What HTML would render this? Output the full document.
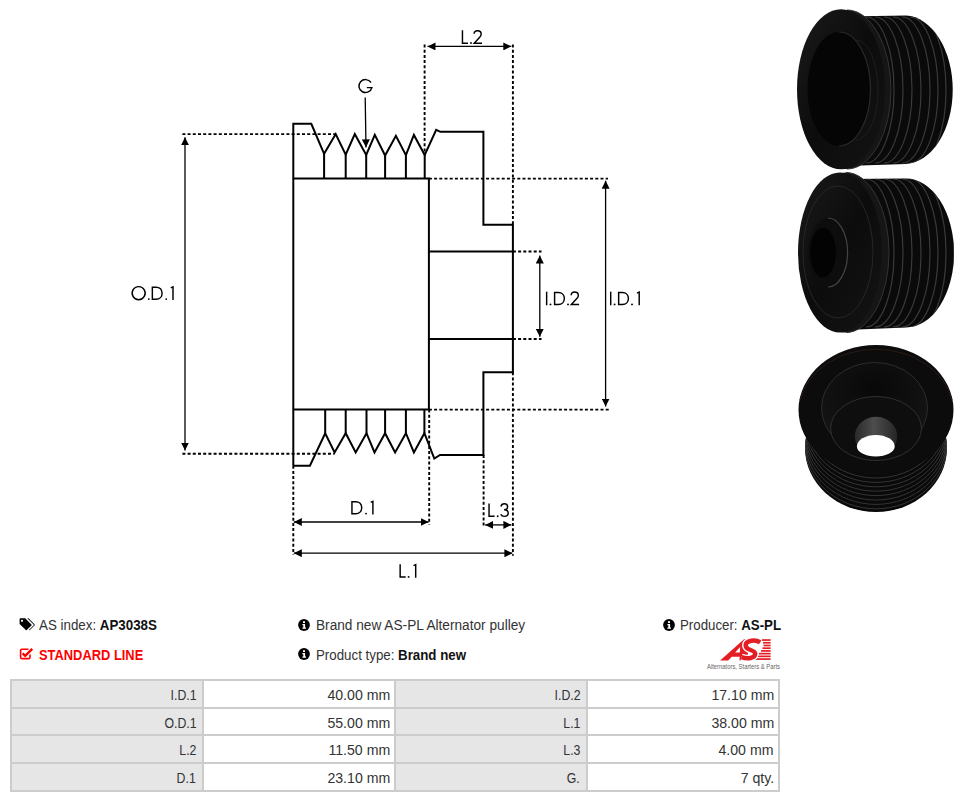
<!DOCTYPE html>
<html><head><meta charset="utf-8">
<style>
html,body{margin:0;padding:0;background:#fff;}
body{width:962px;height:802px;position:relative;overflow:hidden;font-family:"Liberation Sans",sans-serif;color:#333;}
.abs{position:absolute;white-space:nowrap;}
.t{position:absolute;white-space:nowrap;font-size:14px;line-height:16px;color:#333;transform-origin:0 0;}
.t b{color:#111;}
.red{color:#f00;font-weight:bold;}
.tc{position:absolute;white-space:nowrap;font-size:14px;line-height:16px;color:#333;transform-origin:100% 0;}

</style></head><body>
<svg class="abs" style="left:0;top:0" width="962" height="600" viewBox="0 0 962 600">
<defs>
<marker id="ah" viewBox="0 0 8 8" refX="8" refY="4" markerWidth="8" markerHeight="8" markerUnits="userSpaceOnUse" orient="auto-start-reverse"><path d="M0,0 L8,4 L0,8 z" fill="#000"/></marker>
</defs>
<g fill="none" stroke="#000" stroke-width="2" stroke-linejoin="miter">
<!-- outer contour -->
<path d="M293.3,465.7 V123.8 H311.3 L324.1,153.8 L335.7,134.1 L345.7,154.6 L354.8,134.1 L366.2,154.9 L374.8,134.9 L385.1,155.5 L395.9,135.8 L405.9,155.2 L413.9,134.9 L424.7,154.9 L436.2,129.8 L440.4,131.8 H483.4 V224.8 H512.9 V372.2 H483.4 V455 H440 L434.3,458.6 L424.4,433.2 L413.9,452.4 L405.9,433.2 L395.1,452.4 L385.1,433.2 L374.5,452.4 L366.5,433.2 L355.7,452.4 L345.7,433.2 L334.6,452.4 L325.2,433.2 L309.9,465.7 H293.3"/>
<path d="M293.3,178.5 H428.9 V409.5 H293.3"/>
<path d="M324.1,153.8 V178.5 M345.7,154.6 V178.5 M366.2,154.9 V178.5 M385.1,155.5 V178.5 M405.9,155.2 V178.5 M424.7,154.9 V178.5"/>
<path d="M325.2,409.5 V433.2 M345.7,409.5 V433.2 M366.5,409.5 V433.2 M385.1,409.5 V433.2 M405.9,409.5 V433.2 M424.4,409.5 V433.2"/>
<path d="M428.9,251.5 H512.9 M428.9,339 H512.9"/>
</g>
<g fill="none" stroke="#000" stroke-width="1.9" stroke-dasharray="3 2.2">
<path d="M182.4,134.1 H335.7 M182.4,453.7 H334.6"/>
<path d="M428.9,178.6 H608 M428.9,409.6 H609.6"/>
<path d="M512.9,251.5 H541.5 M512.9,339 H541.5"/>
<path d="M424.6,44.5 V155 M512.9,44.5 V224.8"/>
<path d="M293.3,465.7 V554.5 M429.2,409.5 V524.6 M483.6,455 V527.2 M512.9,372.2 V555.8"/>
</g>
<g fill="none" stroke="#000" stroke-width="1.3" marker-start="url(#ah)" marker-end="url(#ah)">
<path d="M427.5,46.4 H511.3"/>
<path d="M185,137.2 V450.5"/>
<path d="M605.6,180.7 V406.5"/>
<path d="M539.8,255.5 V336.8"/>
<path d="M293.8,522 H428.6"/>
<path d="M485.2,524.9 H511.4"/>
<path d="M293.8,553.2 H512.4"/>
</g>
<path d="M365.2,97.5 L366,147.4" fill="none" stroke="#000" stroke-width="1.3" marker-end="url(#ah)"/>
<g fill="none" stroke="#000" stroke-width="1.45" stroke-linecap="butt">
<path transform="translate(358.00,94.00)" d="M13.0,-11.5 A6.6,6.45 0 1 0 13.9,-6.4 H8.8"/>
<path transform="translate(461.70,43.90)" d="M0.75,-13.6 V-0.75 H6.3"/>
<path transform="translate(473.20,43.90)" d="M0.85,-10.1 C0.95,-12.2 2.5,-13.25 4.4,-13.25 C6.5,-13.25 8.0,-11.9 8.0,-9.9 C8.0,-8.5 7.3,-7.5 6.3,-6.5 L1.0,-0.75 H8.8"/>
<path transform="translate(131.40,300.00)" d="M7.25,-13.4 A6.5,6.55 0 1 0 7.26,-13.4 Z"/>
<path transform="translate(151.60,300.00)" d="M0.75,-12.85 V-0.75 H4.4 C8.2,-0.75 10.5,-3.3 10.5,-6.8 C10.5,-10.3 8.2,-12.85 4.4,-12.85 Z"/>
<path transform="translate(170.40,300.00)" d="M0.4,-12.2 L2.6,-13.2 V0"/>
<path transform="translate(545.95,305.30)" d="M0.7,-13.6 V0"/>
<path transform="translate(553.85,305.30)" d="M0.75,-12.85 V-0.75 H4.4 C8.2,-0.75 10.5,-3.3 10.5,-6.8 C10.5,-10.3 8.2,-12.85 4.4,-12.85 Z"/>
<path transform="translate(570.30,305.30)" d="M0.85,-10.1 C0.95,-12.2 2.5,-13.25 4.4,-13.25 C6.5,-13.25 8.0,-11.9 8.0,-9.9 C8.0,-8.5 7.3,-7.5 6.3,-6.5 L1.0,-0.75 H8.8"/>
<path transform="translate(610.00,305.30)" d="M0.7,-13.6 V0"/>
<path transform="translate(617.90,305.30)" d="M0.75,-12.85 V-0.75 H4.4 C8.2,-0.75 10.5,-3.3 10.5,-6.8 C10.5,-10.3 8.2,-12.85 4.4,-12.85 Z"/>
<path transform="translate(636.60,305.30)" d="M0.4,-12.2 L2.6,-13.2 V0"/>
<path transform="translate(351.20,514.50)" d="M0.75,-12.85 V-0.75 H4.4 C8.2,-0.75 10.5,-3.3 10.5,-6.8 C10.5,-10.3 8.2,-12.85 4.4,-12.85 Z"/>
<path transform="translate(370.30,514.50)" d="M0.4,-12.2 L2.6,-13.2 V0"/>
<path transform="translate(488.30,517.10)" d="M0.75,-13.6 V-0.75 H6.3"/>
<path transform="translate(500.20,517.10)" d="M0.8,-10.6 C1.1,-12.3 2.5,-13.25 4.2,-13.25 C6.1,-13.25 7.4,-12.0 7.4,-10.3 C7.4,-8.5 6.0,-7.4 3.9,-7.4 C6.6,-7.4 8.0,-5.9 8.0,-3.8 C8.0,-1.7 6.4,-0.7 4.2,-0.7 C2.4,-0.7 1.1,-1.5 0.5,-2.9"/>
<path transform="translate(399.40,577.80)" d="M0.75,-13.6 V-0.75 H6.3"/>
<path transform="translate(413.10,577.80)" d="M0.4,-12.2 L2.6,-13.2 V0"/>
</g>
<g fill="#000">
<circle cx="471.00" cy="43.00" r="0.95"/>
<circle cx="148.80" cy="299.10" r="0.95"/>
<circle cx="166.20" cy="299.10" r="0.95"/>
<circle cx="550.50" cy="304.40" r="0.95"/>
<circle cx="568.00" cy="304.40" r="0.95"/>
<circle cx="614.60" cy="304.40" r="0.95"/>
<circle cx="632.00" cy="304.40" r="0.95"/>
<circle cx="366.00" cy="513.60" r="0.95"/>
<circle cx="497.70" cy="516.20" r="0.95"/>
<circle cx="408.60" cy="576.90" r="0.95"/>
</g>

</svg>

<!--PHOTOS-->
<svg class="abs" style="left:780px;top:0px" width="182" height="180" viewBox="780 0 182 180">
<defs>
<linearGradient id="gface" x1="0" y1="0" x2="1" y2="1"><stop offset="0" stop-color="#1a1a1a"/><stop offset="0.5" stop-color="#0c0c0c"/><stop offset="1" stop-color="#141414"/></linearGradient>
</defs>
<path d="M846,16.5 L906,15.5 A48.5,74.3 0 0 1 906,164 L846,166 Z" fill="#0a0a0a"/>
<clipPath id="c1"><path d="M846,16.5 L906,15.5 A48.5,74.3 0 0 1 906,164 L846,166 Z"/></clipPath>
<g clip-path="url(#c1)">
<path d="M866,17 A28,73 0 0 1 866,163" fill="none" stroke="#3a3a3a" stroke-width="1.2"/>
<path d="M875,17 A28,73 0 0 1 875,163" fill="none" stroke="#3a3a3a" stroke-width="1.2"/>
<path d="M884,17 A28,73 0 0 1 884,163" fill="none" stroke="#3a3a3a" stroke-width="1.2"/>
<path d="M893,17 A28,73 0 0 1 893,163" fill="none" stroke="#3a3a3a" stroke-width="1.2"/>
<path d="M902,17 A28,73 0 0 1 902,163" fill="none" stroke="#3a3a3a" stroke-width="1.2"/>
<path d="M910,17 A28,73 0 0 1 910,163" fill="none" stroke="#3a3a3a" stroke-width="1.2"/>
<path d="M918,17 A28,73 0 0 1 918,163" fill="none" stroke="#3a3a3a" stroke-width="1.2"/>
<path d="M926,17 A28,73 0 0 1 926,163" fill="none" stroke="#3a3a3a" stroke-width="1.2"/>
</g>
<ellipse cx="847" cy="89.5" rx="44" ry="79.5" fill="#161616"/>
<path d="M847,10 A44,79.5 0 0 1 847,169" fill="none" stroke="#333" stroke-width="1"/>
<ellipse cx="841" cy="89.3" rx="44" ry="80" fill="url(#gface)"/>
<ellipse cx="839" cy="89" rx="31.5" ry="57" fill="#050505"/>
<path d="M839,32 A31.5,57 0 0 1 839,146" fill="none" stroke="#2a2a2a" stroke-width="1.2"/>
<path d="M856,40 A22,50 0 0 1 856,140" fill="none" stroke="#1e1e1e" stroke-width="1"/>
</svg>
<svg class="abs" style="left:780px;top:165px" width="182" height="175" viewBox="780 165 182 175">
<path d="M846,179 L906,178.5 A48,74.5 0 0 1 906,327.5 L846,330 Z" fill="#0a0a0a"/>
<clipPath id="c2"><path d="M846,179 L906,178.5 A48,74.5 0 0 1 906,327.5 L846,330 Z"/></clipPath>
<g clip-path="url(#c2)">
<path d="M866,179 A28,74 0 0 1 866,327" fill="none" stroke="#3a3a3a" stroke-width="1.2"/>
<path d="M875,179 A28,74 0 0 1 875,327" fill="none" stroke="#3a3a3a" stroke-width="1.2"/>
<path d="M884,179 A28,74 0 0 1 884,327" fill="none" stroke="#3a3a3a" stroke-width="1.2"/>
<path d="M893,179 A28,74 0 0 1 893,327" fill="none" stroke="#3a3a3a" stroke-width="1.2"/>
<path d="M902,179 A28,74 0 0 1 902,327" fill="none" stroke="#3a3a3a" stroke-width="1.2"/>
<path d="M910,179 A28,74 0 0 1 910,327" fill="none" stroke="#3a3a3a" stroke-width="1.2"/>
<path d="M918,179 A28,74 0 0 1 918,327" fill="none" stroke="#3a3a3a" stroke-width="1.2"/>
<path d="M926,179 A28,74 0 0 1 926,327" fill="none" stroke="#3a3a3a" stroke-width="1.2"/>
</g>
<ellipse cx="846" cy="252.5" rx="43" ry="80" fill="#161616"/>
<path d="M846,172.5 A43,80 0 0 1 846,332.5" fill="none" stroke="#333" stroke-width="1"/>
<ellipse cx="840" cy="252.5" rx="42" ry="80" fill="url(#gface)"/>
<ellipse cx="838" cy="252" rx="35" ry="66" fill="none" stroke="#262626" stroke-width="1"/>
<ellipse cx="828" cy="252.6" rx="19.6" ry="34.5" fill="#0d0d0d"/>
<path d="M828,218 A19.6,34.5 0 0 1 828,287" fill="none" stroke="#444" stroke-width="1.2"/>
<ellipse cx="823" cy="252.5" rx="12.8" ry="25" fill="#030303"/>
</svg>
<svg class="abs" style="left:780px;top:340px" width="182" height="180" viewBox="780 340 182 180">
<defs>
<linearGradient id="gbore" x1="0" y1="0" x2="1" y2="0"><stop offset="0" stop-color="#2a2a2a"/><stop offset="0.45" stop-color="#4d4d4d"/><stop offset="1" stop-color="#262626"/></linearGradient>
<radialGradient id="grec" cx="0.5" cy="0.3" r="0.7"><stop offset="0" stop-color="#080808"/><stop offset="1" stop-color="#161616"/></radialGradient>
</defs>
<ellipse cx="876" cy="448" rx="71" ry="64" fill="#0a0a0a"/>
<clipPath id="c3"><ellipse cx="876" cy="448" rx="71" ry="64"/></clipPath>
<g clip-path="url(#c3)">
<path d="M805,414.0 A71,64 0 0 0 947,414.0" fill="none" stroke="#3a3a3a" stroke-width="0.9"/>
<path d="M805,418.4 A71,64 0 0 0 947,418.4" fill="none" stroke="#3a3a3a" stroke-width="0.9"/>
<path d="M805,422.8 A71,64 0 0 0 947,422.8" fill="none" stroke="#3a3a3a" stroke-width="0.9"/>
<path d="M805,427.2 A71,64 0 0 0 947,427.2" fill="none" stroke="#3a3a3a" stroke-width="0.9"/>
<path d="M805,431.6 A71,64 0 0 0 947,431.6" fill="none" stroke="#3a3a3a" stroke-width="0.9"/>
<path d="M805,436.0 A71,64 0 0 0 947,436.0" fill="none" stroke="#3a3a3a" stroke-width="0.9"/>
<path d="M805,440.4 A71,64 0 0 0 947,440.4" fill="none" stroke="#3a3a3a" stroke-width="0.9"/>
<path d="M805,444.8 A71,64 0 0 0 947,444.8" fill="none" stroke="#3a3a3a" stroke-width="0.9"/>
</g>
<ellipse cx="876" cy="410" rx="77.5" ry="65" fill="#0c0c0c"/>
<path d="M800,400 A77.5,63 0 0 1 952,400" fill="none" stroke="#2a1a14" stroke-width="1"/>
<ellipse cx="874.5" cy="408" rx="53" ry="45.5" fill="url(#grec)" stroke="#2c2c2c" stroke-width="1"/>
<ellipse cx="876" cy="428.5" rx="45.4" ry="32" fill="#0e0e0e" stroke="#303030" stroke-width="1"/>
<ellipse cx="876" cy="436.3" rx="21.2" ry="19.5" fill="url(#gbore)"/>
<path d="M856.9,446.5 A18.9,10 0 0 0 894.7,446.5 A18.9,11.6 0 0 0 856.9,446.5 Z" fill="#fff"/>
</svg>
<!--/PHOTOS-->
<!-- info rows -->
<svg class="abs" style="left:19px;top:618px" width="16" height="13" viewBox="0 0 16 13">
<path d="M0.6,1.2 Q0.6,0.3 1.5,0.3 H6.2 L12.4,6.5 Q12.9,7 12.4,7.5 L7.8,12.1 Q7.3,12.6 6.8,12.1 L0.6,5.9 Z" fill="#000"/>
<circle cx="3" cy="2.8" r="1.1" fill="#fff"/>
<path d="M8.3,0.3 H9.6 L15.6,6.4 Q16,7 15.5,7.5 L10.9,12.1 Q10.4,12.6 9.9,12.1 L15,7 Z" fill="#000"/>
</svg>
<div class="t" style="left:38.9px;top:617px;transform:scaleX(0.953)">AS index: <b>AP3038S</b></div>
<svg class="abs" style="left:19px;top:647px" width="15" height="13" viewBox="0 0 15 13">
<path d="M9.5,2.2 H3 Q1.6,2.2 1.6,3.6 V10.2 Q1.6,11.6 3,11.6 H9.6 Q11,11.6 11,10.2 V7.6" fill="none" stroke="#f00" stroke-width="1.6"/>
<path d="M3.6,6.3 L6.2,8.9 L13.3,1.8" fill="none" stroke="#f00" stroke-width="2.4" stroke-linejoin="miter"/>
</svg>
<div class="t red" style="left:39.2px;top:646.7px;transform:scaleX(0.92)">STANDARD LINE</div>

<svg class="abs" style="left:298px;top:618.5px" width="12" height="12" viewBox="0 0 12 12">
<circle cx="6" cy="6" r="5.9" fill="#000"/>
<path d="M5,2.3 h2 v1.6 h-2 z M4.4,5 h2.7 v3.6 h0.9 v1.2 h-3.6 v-1.2 h0.9 v-2.4 h-0.9 z" fill="#fff"/>
</svg>
<div class="t" style="left:315.9px;top:617px;transform:scaleX(0.976)">Brand new AS-PL Alternator pulley</div>
<svg class="abs" style="left:298px;top:647.8px" width="12" height="12" viewBox="0 0 12 12">
<circle cx="6" cy="6" r="5.9" fill="#000"/>
<path d="M5,2.3 h2 v1.6 h-2 z M4.4,5 h2.7 v3.6 h0.9 v1.2 h-3.6 v-1.2 h0.9 v-2.4 h-0.9 z" fill="#fff"/>
</svg>
<div class="t" style="left:315.9px;top:646.7px;transform:scaleX(0.95)">Product type: <b>Brand new</b></div>

<svg class="abs" style="left:663px;top:619px" width="12" height="12" viewBox="0 0 12 12">
<circle cx="6" cy="6" r="5.9" fill="#000"/>
<path d="M5,2.3 h2 v1.6 h-2 z M4.4,5 h2.7 v3.6 h0.9 v1.2 h-3.6 v-1.2 h0.9 v-2.4 h-0.9 z" fill="#fff"/>
</svg>
<div class="t" style="left:679.6px;top:617px;transform:scaleX(0.948)">Producer: <b>AS-PL</b></div>

<!-- logo -->
<svg class="abs" style="left:705px;top:637px" width="78" height="35" viewBox="0 0 78 35">
<g fill="#e31e24">
<rect x="57" y="2.20" width="8.6" height="1.7"/>
<rect x="58" y="4.92" width="7.6" height="1.7"/>
<rect x="58.5" y="7.64" width="7.1" height="1.7"/>
<rect x="57.5" y="10.36" width="8.1" height="1.7"/>
<rect x="56" y="13.08" width="9.6" height="1.7"/>
<rect x="54" y="15.80" width="11.6" height="1.7"/>
<rect x="51.5" y="18.52" width="14.1" height="1.7"/>
<rect x="48.5" y="21.24" width="17.1" height="1.7"/>
<path d="M15.1,23.5 L39,2.3 L45,2.3 L42,23.5 L34.3,23.5 L34.8,19.8 L26.8,19.8 L23.1,23.5 Z M30.1,15.6 L35.2,10 L34.8,15.6 Z" fill-rule="evenodd"/>
</g>
<path d="M55.2,5.4 C52,3.2 47.5,3.0 43.5,4.6 C39.5,6.3 39.8,10.5 43.8,12.3 C47,13.6 50.8,14.2 50.2,17.2 C49.6,21.2 43,22.3 36.5,20.2" fill="none" stroke="#fff" stroke-width="7.2"/>
<path d="M55.2,5.4 C52,3.2 47.5,3.0 43.5,4.6 C39.5,6.3 39.8,10.5 43.8,12.3 C47,13.6 50.8,14.2 50.2,17.2 C49.6,21.2 43,22.3 36.5,20.2" fill="none" stroke="#e31e24" stroke-width="4.4"/>
<text x="2" y="32" font-family="Liberation Sans" font-size="6.3" fill="#666" textLength="73" lengthAdjust="spacingAndGlyphs">Alternators, Starters &amp; Parts</text>
</svg>
<div class="abs" style="left:10px;top:679px;width:770px;height:113px;background:#ccc"></div>
<div class="abs" style="left:12px;top:681px;width:190px;height:26px;background:#e6e6e6"></div>
<div class="abs" style="left:204px;top:681px;width:190px;height:26px;background:#fff"></div>
<div class="abs" style="left:396px;top:681px;width:190px;height:26px;background:#e6e6e6"></div>
<div class="abs" style="left:588px;top:681px;width:190px;height:26px;background:#fff"></div>
<div class="abs" style="left:12px;top:709px;width:190px;height:25px;background:#e6e6e6"></div>
<div class="abs" style="left:204px;top:709px;width:190px;height:25px;background:#fff"></div>
<div class="abs" style="left:396px;top:709px;width:190px;height:25px;background:#e6e6e6"></div>
<div class="abs" style="left:588px;top:709px;width:190px;height:25px;background:#fff"></div>
<div class="abs" style="left:12px;top:736px;width:190px;height:26px;background:#e6e6e6"></div>
<div class="abs" style="left:204px;top:736px;width:190px;height:26px;background:#fff"></div>
<div class="abs" style="left:396px;top:736px;width:190px;height:26px;background:#e6e6e6"></div>
<div class="abs" style="left:588px;top:736px;width:190px;height:26px;background:#fff"></div>
<div class="abs" style="left:12px;top:764px;width:190px;height:26px;background:#e6e6e6"></div>
<div class="abs" style="left:204px;top:764px;width:190px;height:26px;background:#fff"></div>
<div class="abs" style="left:396px;top:764px;width:190px;height:26px;background:#e6e6e6"></div>
<div class="abs" style="left:588px;top:764px;width:190px;height:26px;background:#fff"></div>
<div class="tc" style="right:765.8px;top:687.15px;transform:scaleX(0.88)">I.D.1</div>
<div class="tc" style="right:572.2px;top:687.15px;transform:scaleX(1.01)">40.00 mm</div>
<div class="tc" style="right:381.8px;top:687.15px;transform:scaleX(0.88)">I.D.2</div>
<div class="tc" style="right:188.2px;top:687.15px;transform:scaleX(1.01)">17.10 mm</div>
<div class="tc" style="right:765.8px;top:714.75px;transform:scaleX(0.88)">O.D.1</div>
<div class="tc" style="right:572.2px;top:714.75px;transform:scaleX(1.01)">55.00 mm</div>
<div class="tc" style="right:381.8px;top:714.75px;transform:scaleX(0.88)">L.1</div>
<div class="tc" style="right:188.2px;top:714.75px;transform:scaleX(1.01)">38.00 mm</div>
<div class="tc" style="right:765.8px;top:742.35px;transform:scaleX(0.88)">L.2</div>
<div class="tc" style="right:572.2px;top:742.35px;transform:scaleX(1.01)">11.50 mm</div>
<div class="tc" style="right:381.8px;top:742.35px;transform:scaleX(0.88)">L.3</div>
<div class="tc" style="right:188.2px;top:742.35px;transform:scaleX(1.01)">4.00 mm</div>
<div class="tc" style="right:765.8px;top:769.95px;transform:scaleX(0.88)">D.1</div>
<div class="tc" style="right:572.2px;top:769.95px;transform:scaleX(1.01)">23.10 mm</div>
<div class="tc" style="right:381.8px;top:769.95px;transform:scaleX(0.88)">G.</div>
<div class="tc" style="right:188.2px;top:769.95px;transform:scaleX(1.01)">7 qty.</div>
</body></html>
